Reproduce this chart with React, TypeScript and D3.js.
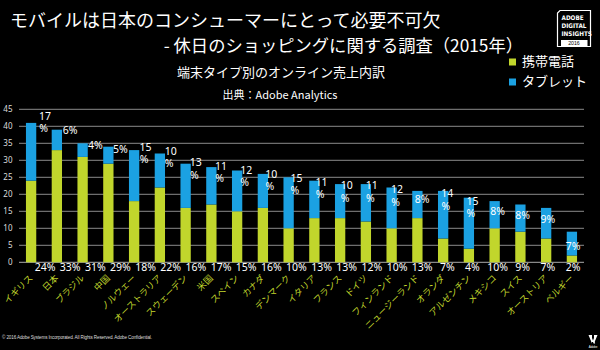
import React from "react";
import * as d3 from "d3";

// countries (x categories), values in % of online sales
const countries = [
  "イギリス", "日本", "ブラジル", "中国", "ノルウェー", "オーストラリア",
  "スウェーデン", "米国", "スペイン", "カナダ", "デンマーク", "イタリア",
  "フランス", "ドイツ", "フィンランド", "ニュージーランド", "オランダ",
  "アルゼンチン", "メキシコ", "スイス", "オーストリア", "ベルギー",
];
const mobile = [24, 33, 31, 29, 18, 22, 16, 17, 15, 16, 10, 13, 13, 12, 10, 13, 7, 4, 10, 9, 7, 2];
const tablet = [17, 6, 4, 5, 15, 10, 13, 11, 12, 10, 15, 11, 10, 11, 12, 8, 14, 15, 8, 8, 9, 7];
const yTicks = [0, 5, 10, 15, 20, 25, 30, 35, 40, 45];
const seriesNames = ["携帯電話", "タブレット"];

const GREEN = "#c1d62c";
const BLUE = "#1ba1e2";
const JP = "'Noto Sans CJK JP', 'Noto Sans', sans-serif";

const W = 600;
const H = 350;

const App = () => {
  const x = d3.scaleBand().domain(countries).range([19, 584]).paddingInner(0.6).paddingOuter(0.27);
  const y = d3.scaleLinear().domain([0, 45]).range([262.3, 109.3]);
  // data labels sit on a slightly offset overlay in the original slide
  const lx = d3.scalePoint().domain(countries).range([45, 573]);
  const ly = d3.scaleLinear().domain([0, 45]).range([281, 106.6]);

  const stack = d3.stack().keys(["mobile", "tablet"])(
    countries.map((c, i) => ({ c, mobile: mobile[i], tablet: tablet[i] })) as any
  );

  return (
    <svg
      width={W}
      height={H}
      style={{ position: "absolute", left: 0, top: 0, background: "#000" }}
      fontFamily={JP}
    >
      <rect width={W} height={H} fill="#000" />

      {/* titles */}
      <text x={10} y={27} fill="#fff" fontSize={18}>
        モバイルは日本のコンシューマーにとって必要不可欠
      </text>
      <text x={523} y={52} fill="#fff" fontSize={17.3} textAnchor="end">
        - 休日のショッピングに関する調査（2015年）
      </text>
      <text x={281} y={76.5} fill="#fff" fontSize={13} textAnchor="middle">
        端末タイプ別のオンライン売上内訳
      </text>
      <text x={280} y={99} fill="#fff" fontSize={11} textAnchor="middle">
        出典：Adobe Analytics
      </text>

      {/* logo */}
      <g>
        <path d="M560,10.5 H590.5 V46.5 H557.5 V13 Z" fill="none" stroke="#fff" strokeWidth={1.2} />
        {["ADOBE", "DIGITAL", "INSIGHTS"].map((t, i) => (
          <text key={t} x={561.5} y={19.5 + i * 8} fill="#fff" fontSize={6.3} fontWeight="bold" fontFamily="'DejaVu Sans Condensed', 'Liberation Sans Narrow', sans-serif">
            {t}
          </text>
        ))}
        <rect x={561} y={40} width={26.5} height={6} fill="#fff" />
        <text x={574} y={45.3} fill="#000" fontSize={5.2} textAnchor="middle" fontFamily="'Liberation Sans', sans-serif">
          2016
        </text>
      </g>

      {/* legend */}
      {seriesNames.map((n, i) => (
        <g key={n} transform={`translate(509, ${58.5 + i * 20})`}>
          <rect width={7} height={7} fill={i === 0 ? GREEN : BLUE} />
          <text x={13} y={7.5} fill="#fff" fontSize={13}>
            {n}
          </text>
        </g>
      ))}

      {/* grid + y axis */}
      {yTicks.map((t) => (
        <g key={t}>
          <line x1={19} x2={584} y1={y(t)} y2={y(t)} stroke={t === 0 ? "#aaa" : "#8a8a8a"} strokeWidth={1} />
          <text x={12.5} y={y(t) + 3} fill="#ddd" fontSize={8} textAnchor="end" fontFamily="'Noto Sans', sans-serif">
            {t}
          </text>
        </g>
      ))}

      {/* bars */}
      {stack.map((s, si) =>
        s.map((d, i) => (
          <rect
            key={`${si}-${i}`}
            x={x(countries[i])}
            width={x.bandwidth()}
            y={y(d[1])}
            height={y(d[0]) - y(d[1])}
            fill={si === 0 ? GREEN : BLUE}
          />
        ))
      )}

      {/* tablet labels near bar tops */}
      {countries.map((c, i) => {
        const cx = lx(c)!;
        const cy = ly(mobile[i] + tablet[i]);
        const t = tablet[i];
        if (t >= 10) {
          return (
            <g key={c} fill="#fff" fontSize={10.5} textAnchor="middle" fontFamily="'Noto Sans', sans-serif">
              <text x={cx} y={cy - 6.2 + 3.8}>{t}</text>
              <text x={cx - 1.5} y={cy + 6.2 + 3.8}>%</text>
            </g>
          );
        }
        return (
          <text key={c} x={cx} y={cy + 3.8} fill="#fff" fontSize={10.5} textAnchor="middle" fontFamily="'Noto Sans', sans-serif">
            {t}%
          </text>
        );
      })}

      {/* mobile labels under baseline */}
      {countries.map((c, i) => (
        <text key={c} x={lx(c)} y={270.5} fill="#fff" fontSize={10.5} textAnchor="middle" fontFamily="'Noto Sans', sans-serif">
          {mobile[i]}%
        </text>
      ))}

      {/* category labels */}
      {countries.map((c) => {
        const cx = x(c)! + x.bandwidth() / 2;
        return (
          <text key={c} transform={`translate(${cx}, 276.5) rotate(-45)`} fill={GREEN} fontSize={9} textAnchor="end" dy="0.35em">
            {c}
          </text>
        );
      })}

      {/* footer */}
      <text x={2} y={338.5} fill="#ddd" fontSize={4.6} fontFamily="'Liberation Sans', sans-serif" textLength={150}>
        © 2016 Adobe Systems Incorporated.  All Rights Reserved.  Adobe Confidential.
      </text>
      <g fill="#fff">
        <path d="M588.5,335 h3.5 v8.5 Z" />
        <path d="M597.5,335 h-3.5 v8.5 Z" />
        <path d="M593,338 l2.2,5.5 h-1.6 l-0.6,-1.5 h-1.5 Z" />
        <text x={593} y={348} fontSize={3} textAnchor="middle" fontFamily="'Liberation Sans', sans-serif">Adobe</text>
      </g>
    </svg>
  );
};

export default App;
